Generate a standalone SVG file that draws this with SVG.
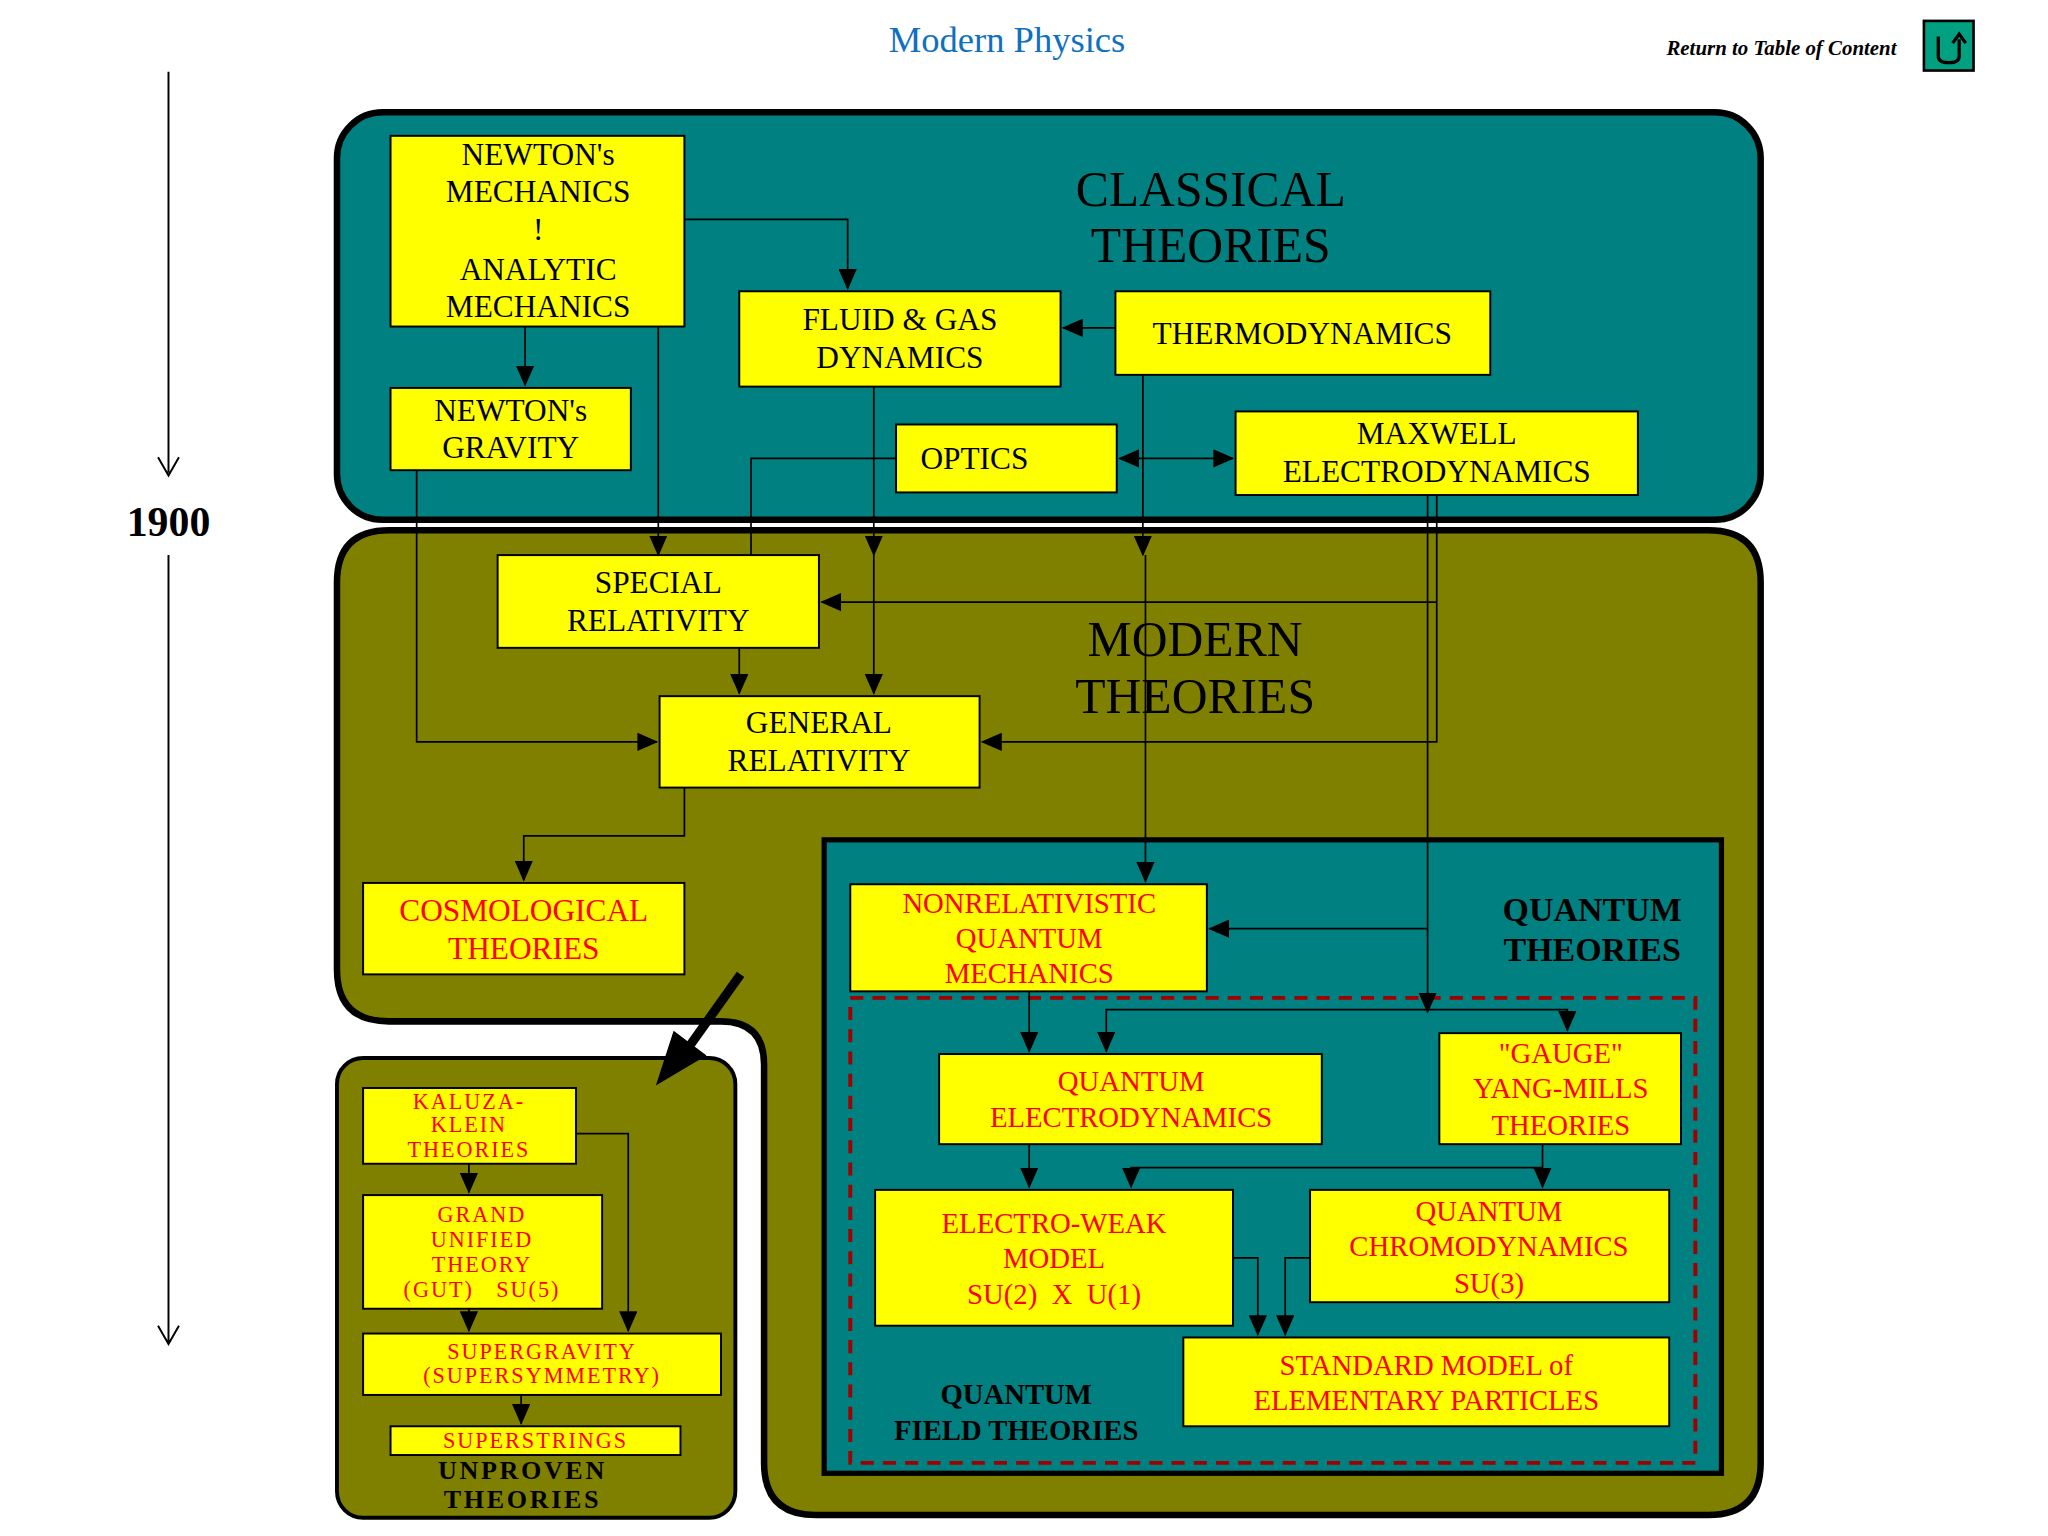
<svg xmlns="http://www.w3.org/2000/svg" width="2048" height="1536" viewBox="0 0 2048 1536">
<defs>
<marker id="ah" markerUnits="userSpaceOnUse" markerWidth="16" markerHeight="14" refX="15" refY="7" orient="auto-start-reverse" viewBox="0 0 16 14"><path d="M0,0 L16,7 L0,14 Z" fill="#000"/></marker>
<style>
text{font-family:"Liberation Serif","Times New Roman",serif;text-anchor:middle;dominant-baseline:central}
.n{fill:#ffff00;stroke:#000;stroke-width:1.5}
.t{font-size:24px;fill:#000}
.r{font-size:22px;fill:#ff0000}
.u{font-size:17px;fill:#ff0000;letter-spacing:1.5px}
.big{font-size:38px;fill:#000}
.b{font-weight:bold;fill:#000}
.c path{fill:none;stroke:#000;stroke-width:1.3;marker-end:url(#ah)}
</style>
</defs>
<rect width="2048" height="1536" fill="#fff"/>
<g transform="scale(1.30612)">
<g id="header">
<text x="771" y="30" style="font-size:28px;fill:#1070c0">Modern Physics</text>
<text x="1452" y="37" style="font-size:16px;font-style:italic;font-weight:bold;text-anchor:end">Return to Table of Content</text>
<rect x="1473" y="16" width="38" height="38" fill="#00a080" stroke="#000" stroke-width="2"/>
<path d="M1484,28 V43 Q1484,48 1492,48 Q1500,48 1500,43 V30 M1495,33 L1500,26 L1505,33" fill="none" stroke="#000" stroke-width="2.5"/>
</g>
<g id="timeline" fill="none" stroke="#000" stroke-width="1.5">
<path d="M129,55 V362 M121,350 L129,364 L137,350"/>
<path d="M129,425 V1028 M121,1015 L129,1029 L137,1015"/>
<text x="129" y="400" stroke="none" style="font-size:32px;font-weight:bold;fill:#000">1900</text>
</g>
<g id="containers">
<rect x="258" y="86" width="1090" height="312" rx="35" fill="#008080" stroke="#000" stroke-width="5"/>
<path d="M298,406 H1308 Q1348,406 1348,446 V1120 Q1348,1160 1308,1160 H625 Q585,1160 585,1120 V815 Q585,782 552,782 H298 Q258,782 258,742 V446 Q258,406 298,406 Z" fill="#808000" stroke="#000" stroke-width="5"/>
<rect x="258" y="810" width="305" height="352" rx="20" fill="#808000" stroke="#000" stroke-width="3"/>
<rect x="631" y="643" width="687" height="485" fill="#008080" stroke="#000" stroke-width="4"/>
<rect x="651" y="764" width="647" height="356" fill="none" stroke="#a00000" stroke-width="3" stroke-dasharray="10,7"/>
<text x="927" y="145" class="big">CLASSICAL</text><text x="927" y="188" class="big">THEORIES</text>
<text x="915" y="490" class="big">MODERN</text><text x="915" y="533" class="big">THEORIES</text>
<text x="1219" y="696" class="b" style="font-size:26px">QUANTUM</text><text x="1219" y="727" class="b" style="font-size:26px">THEORIES</text>
<text x="778" y="1067" class="b" style="font-size:22px">QUANTUM</text><text x="778" y="1095" class="b" style="font-size:22px">FIELD THEORIES</text>
<text x="400" y="1126" class="b" style="font-size:20px;letter-spacing:2px">UNPROVEN</text><text x="400" y="1148" class="b" style="font-size:20px;letter-spacing:2px">THEORIES</text>
</g>
<g id="connectors" class="c">
<path d="M524,168 H649 V221"/>
<path d="M402,250 V295"/>
<path d="M504,250 V425"/>
<path d="M854,251 H814"/>
<path d="M875,287 V425"/>
<path d="M877,425 V675"/>
<path d="M669,296 V425"/>
<path d="M669,425 V531"/>
<path d="M686,351 H575 V441"/>
<path d="M870,351 H857"/>
<path d="M870,351 H944"/>
<path d="M1100,379 V568 H752"/>
<path d="M1100,461 H629"/>
<path d="M1093,379 V775"/>
<path d="M1093,711 H926"/>
<path d="M319,360 V568 H503"/>
<path d="M566,496 V531"/>
<path d="M524,603 V640 H401 V674"/>
<path d="M788,759 V805"/>
<path d="M1093,773 H847 V805"/>
<path d="M1093,773 H1200 V789"/>
<path d="M788,876 V909"/>
<path d="M1181,876 V909"/>
<path d="M1181,894 H866 V909"/>
<path d="M944,963 H963 V1022"/>
<path d="M1003,963 H984 V1022"/>
<path d="M359,891 V913"/>
<path d="M441,868 H481 V1019"/>
<path d="M359,1002 V1019"/>
<path d="M399,1068 V1090"/>
<path d="M567,746 L525,805" style="stroke-width:7;marker-end:none"/>
<polygon points="503,830 516,790 540,808" fill="#000" stroke="#000"/>
</g>
<g id="newton-mechanics"><rect class="n" x="299" y="104" width="225" height="146"/>
<text class="t" x="412" y="118">NEWTON's</text><text class="t" x="412" y="147">MECHANICS</text><text class="t" x="412" y="176">!</text><text class="t" x="412" y="206">ANALYTIC</text><text class="t" x="412" y="235">MECHANICS</text></g>
<g id="newton-gravity"><rect class="n" x="299" y="297" width="184" height="63"/><text class="t" x="391" y="314">NEWTON's</text><text class="t" x="391" y="343">GRAVITY</text></g>
<g id="fluid"><rect class="n" x="566" y="223" width="246" height="73"/><text class="t" x="689" y="245">FLUID &amp; GAS</text><text class="t" x="689" y="274">DYNAMICS</text></g>
<g id="thermo"><rect class="n" x="854" y="223" width="287" height="64"/><text class="t" x="997" y="255">THERMODYNAMICS</text></g>
<g id="optics"><rect class="n" x="686" y="325" width="169" height="52"/><text class="t" x="746" y="351">OPTICS</text></g>
<g id="maxwell"><rect class="n" x="946" y="315" width="308" height="64"/><text class="t" x="1100" y="332">MAXWELL</text><text class="t" x="1100" y="361">ELECTRODYNAMICS</text></g>
<g id="special"><rect class="n" x="381" y="425" width="246" height="71"/><text class="t" x="504" y="446">SPECIAL</text><text class="t" x="504" y="475">RELATIVITY</text></g>
<g id="general"><rect class="n" x="505" y="533" width="245" height="70"/><text class="t" x="627" y="553">GENERAL</text><text class="t" x="627" y="582">RELATIVITY</text></g>
<g id="cosmo"><rect class="n" x="278" y="676" width="246" height="70"/><text class="r" x="401" y="697" style="font-size:24px">COSMOLOGICAL</text><text class="r" x="401" y="726" style="font-size:24px">THEORIES</text></g>
<g id="nrqm"><rect class="n" x="651" y="677" width="273" height="82"/><text class="r" x="788" y="691">NONRELATIVISTIC</text><text class="r" x="788" y="718">QUANTUM</text><text class="r" x="788" y="745">MECHANICS</text></g>
<g id="qed"><rect class="n" x="719" y="807" width="293" height="69"/><text class="r" x="866" y="828">QUANTUM</text><text class="r" x="866" y="855">ELECTRODYNAMICS</text></g>
<g id="gauge"><rect class="n" x="1102" y="791" width="185" height="85"/><text class="r" x="1195" y="806">"GAUGE"</text><text class="r" x="1195" y="833">YANG-MILLS</text><text class="r" x="1195" y="861">THEORIES</text></g>
<g id="ew"><rect class="n" x="670" y="911" width="274" height="104"/><text class="r" x="807" y="936">ELECTRO-WEAK</text><text class="r" x="807" y="963">MODEL</text><text class="r" x="807" y="991" xml:space="preserve">SU(2)  X  U(1)</text></g>
<g id="qcd"><rect class="n" x="1003" y="911" width="275" height="86"/><text class="r" x="1140" y="927">QUANTUM</text><text class="r" x="1140" y="954">CHROMODYNAMICS</text><text class="r" x="1140" y="982">SU(3)</text></g>
<g id="standard"><rect class="n" x="906" y="1024" width="372" height="68"/><text class="r" x="1092" y="1045">STANDARD MODEL of</text><text class="r" x="1092" y="1072">ELEMENTARY PARTICLES</text></g>
<g id="kaluza"><rect class="n" x="278" y="833" width="163" height="58"/><text class="u" x="359" y="843">KALUZA-</text><text class="u" x="359" y="861">KLEIN</text><text class="u" x="359" y="880">THEORIES</text></g>
<g id="gut"><rect class="n" x="278" y="915" width="183" height="87"/><text class="u" x="369" y="930">GRAND</text><text class="u" x="369" y="949">UNIFIED</text><text class="u" x="369" y="968">THEORY</text><text class="u" x="369" y="987" xml:space="preserve">(GUT)   SU(5)</text></g>
<g id="supergravity"><rect class="n" x="278" y="1021" width="274" height="47"/><text class="u" x="415" y="1035">SUPERGRAVITY</text><text class="u" x="415" y="1053">(SUPERSYMMETRY)</text></g>
<g id="superstrings"><rect class="n" x="299" y="1092" width="222" height="22"/><text class="u" x="410" y="1103">SUPERSTRINGS</text></g>
</g>
</svg>
